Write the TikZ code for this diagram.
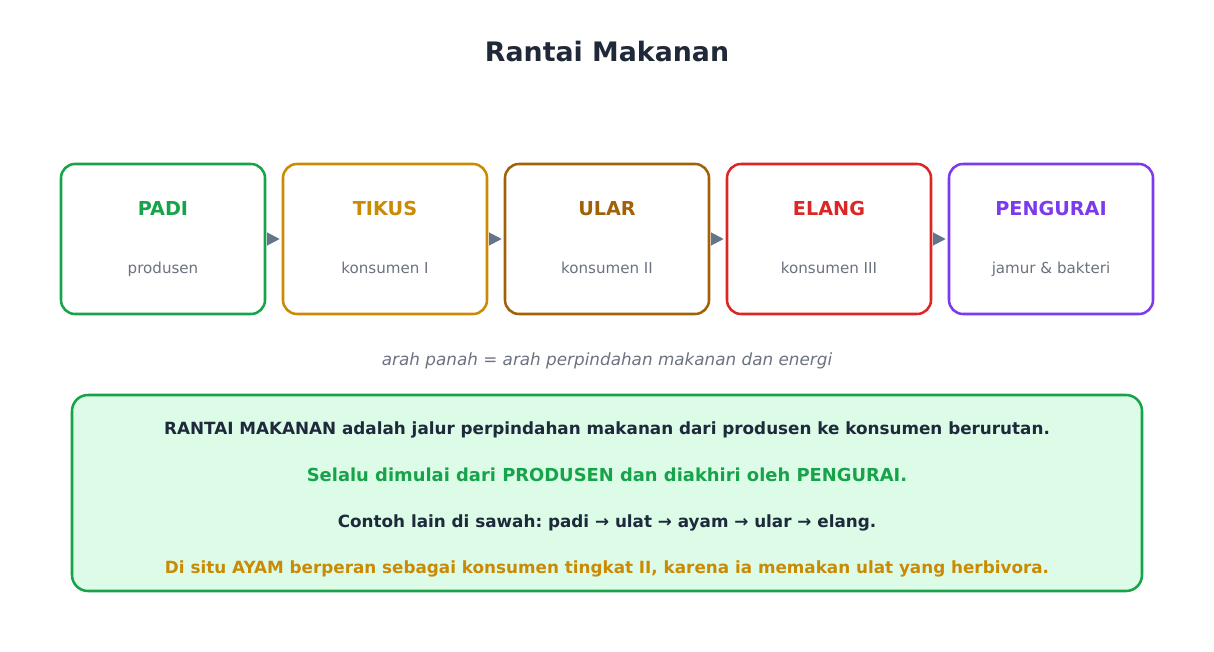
\documentclass[tikz,border=0pt]{standalone}
\usepackage{fontspec}
\setmainfont{DejaVu Sans}
\usetikzlibrary{arrows.meta}
\definecolor{cpadi}{HTML}{16A34A}
\definecolor{ctikus}{HTML}{CA8A04}
\definecolor{cular}{HTML}{A16207}
\definecolor{celang}{HTML}{DC2626}
\definecolor{cpeng}{HTML}{7C3AED}
\definecolor{cgray}{HTML}{6B7280}
\definecolor{carrow}{HTML}{64748B}
\definecolor{cdark}{HTML}{1F2937}
\definecolor{cnavy}{HTML}{1E293B}
\definecolor{cbg}{HTML}{DCFCE7}
\newcommand{\fs}[1]{\fontsize{#1\dimexpr0.75pt\relax}{#1\dimexpr0.9pt\relax}\selectfont}
\frenchspacing
\begin{document}
\begin{tikzpicture}[x=0.75pt,y=-0.75pt,
  chainbox/.style={draw=#1,line width=1.9pt,rounded corners=10.5pt,fill=white,minimum width=153pt,minimum height=112.5pt,inner sep=0pt},
  boxtitle/.style={text=#1,font=\fs{19.2}\bfseries,inner sep=0pt,anchor=base},
  boxsub/.style={text=cgray,font=\fs{15.1},inner sep=0pt,anchor=base},
  flow/.style={draw=carrow,line width=1.5pt,-{Triangle[length=9.5pt,width=9.5pt]},shorten <=2pt,shorten >=1.5pt},
  infoline/.style={font=\fs{16.8}\bfseries,inner sep=0pt,anchor=base}
]
\frenchspacing
\useasboundingbox (0,0) rectangle (1214,652);
\node[text=cdark,font=\fs{26.8}\bfseries,inner sep=0pt,anchor=base] (title) at (607,62) {Rantai Makanan};

\node[chainbox=cpadi] (padi) at (163,239) {};
\node[chainbox=ctikus] (tikus) at (385,239) {};
\node[chainbox=cular] (ular) at (607,239) {};
\node[chainbox=celang] (elang) at (829,239) {};
\node[chainbox=cpeng] (peng) at (1051,239) {};

\node[boxtitle=cpadi] (padiT) at (163,216) {PADI};
\node[boxsub] (padiS) at (163,274) {produsen};
\node[boxtitle=ctikus] (tikusT) at (385,216) {TIKUS};
\node[boxsub] (tikusS) at (385,274) {konsumen I};
\node[boxtitle=cular] (ularT) at (607,216) {ULAR};
\node[boxsub] (ularS) at (607,274) {konsumen II};
\node[boxtitle=celang] (elangT) at (829,216) {ELANG};
\node[boxsub] (elangS) at (829,274) {konsumen III};
\node[boxtitle=cpeng] (pengT) at (1051,216) {PENGURAI};
\node[boxsub] (pengS) at (1051,274) {jamur \& bakteri};

\draw[flow] (padi.east) -- (tikus.west);
\draw[flow] (tikus.east) -- (ular.west);
\draw[flow] (ular.east) -- (elang.west);
\draw[flow] (elang.east) -- (peng.west);

\node[text=cgray,font=\fs{16.8}\itshape,inner sep=0pt,anchor=base] (caption) at (607,365.5) {arah panah = arah perpindahan makanan dan energi};

\node[draw=cpadi,fill=cbg,line width=1.9pt,rounded corners=12pt,minimum width=802.5pt,minimum height=147pt,inner sep=0pt] (info) at (607,493) {};
\node[infoline,text=cnavy] (l1) at (607,434.5) {RANTAI MAKANAN adalah jalur perpindahan makanan dari produsen ke konsumen berurutan.};
\node[infoline,text=cpadi,font=\fs{17.9}\bfseries] (l2) at (607,481) {Selalu dimulai dari PRODUSEN dan diakhiri oleh PENGURAI.};
\node[infoline,text=cnavy] (l3) at (607,527.5) {Contoh lain di sawah: padi → ulat → ayam → ular → elang.};
\node[infoline,text=ctikus] (l4) at (607,573.5) {Di situ AYAM berperan sebagai konsumen tingkat II, karena ia memakan ulat yang herbivora.};
\end{tikzpicture}
\end{document}
